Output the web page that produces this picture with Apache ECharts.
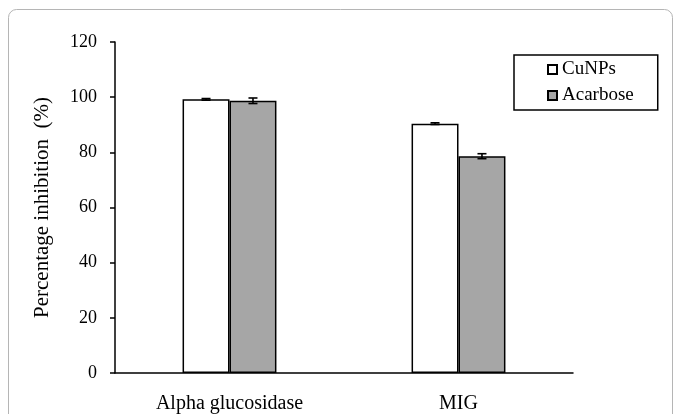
<!DOCTYPE html>
<html>
<head>
<meta charset="utf-8">
<script src="https://cdn.jsdelivr.net/npm/echarts@6/dist/echarts.min.js"></script>
<style>
  html, body { margin: 0; padding: 0; background: #fff; }
  #chart { width: 683px; height: 414px; }
</style>
</head>
<body>
<div id="chart"></div>
<script>
// Enzyme inhibition: CuNPs vs Acarbose
const categories = ['Alpha glucosidase', 'MIG'];
const seriesNames = ['CuNPs', 'Acarbose'];
const cunpsValues = [99.2, 90.4];
const cunpsErrors = [0.3, 0.3];
const acarboseValues = [98.7, 78.6];
const acarboseErrors = [1.0, 0.9];
const yTicks = [0, 20, 40, 60, 80, 100, 120];

const serif = '"Liberation Serif", "Times New Roman", serif';
const GROUP_FRACTION = 0.41; // share of each category band taken by the two bars

// Error bar drawn over one of the two bars in a group (side: -1 left, +1 right)
function errorBarRenderer(side) {
  return function (params, api) {
    const idx = api.value(0);
    const val = api.value(1);
    const err = api.value(2);
    const band = api.size([1, 0])[0];
    const barW = band * GROUP_FRACTION / 2;
    const base = api.coord([idx, val]);
    const x = base[0] + side * barW / 2;
    const hi = api.coord([idx, val + err])[1];
    const lo = api.coord([idx, val - err])[1];
    const cap = 4.5;
    const style = { stroke: '#000', lineWidth: 1.6 };
    return {
      type: 'group',
      children: [
        { type: 'line', shape: { x1: x, y1: hi, x2: x, y2: lo }, style },
        { type: 'line', shape: { x1: x - cap, y1: hi, x2: x + cap, y2: hi }, style },
        { type: 'line', shape: { x1: x - cap, y1: lo, x2: x + cap, y2: lo }, style }
      ]
    };
  };
}

const chart = echarts.init(document.getElementById('chart'));
chart.setOption({
  backgroundColor: '#fff',
  animation: false,
  graphic: [{
    type: 'rect',
    shape: { x: 8.5, y: 9.5, width: 664, height: 440, r: 8 },
    style: { fill: 'none', stroke: '#b5b5b5', lineWidth: 1 },
    z: -1
  }],
  grid: { left: 115, right: 110, top: 42, bottom: 34 },
  legend: {
    orient: 'vertical',
    left: 514,
    top: 55,
    data: seriesNames,
    icon: 'rect',
    itemWidth: 9,
    itemHeight: 9,
    itemGap: 7,
    padding: [5, 24, 5, 33],
    borderColor: '#000',
    borderWidth: 1.5,
    backgroundColor: '#fff',
    textStyle: { fontFamily: serif, fontSize: 19, color: '#000', lineHeight: 18 }
  },
  xAxis: {
    type: 'category',
    data: categories,
    axisLine: { lineStyle: { color: '#000', width: 1.5 } },
    axisTick: { show: false },
    axisLabel: { fontFamily: serif, fontSize: 20, color: '#000', margin: 21 }
  },
  yAxis: {
    type: 'value',
    min: yTicks[0],
    max: yTicks[yTicks.length - 1],
    interval: yTicks[1] - yTicks[0],
    name: 'Percentage inhibition  (%)',
    nameLocation: 'middle',
    nameGap: 62,
    nameTextStyle: { fontFamily: serif, fontSize: 21, color: '#000' },
    axisLine: { show: true, lineStyle: { color: '#000', width: 1.5 } },
    axisTick: { show: true, inside: false, length: 5, lineStyle: { color: '#000', width: 1.5 } },
    axisLabel: { fontFamily: serif, fontSize: 18, color: '#000', margin: 18 },
    splitLine: { show: false }
  },
  series: [
    {
      name: seriesNames[0],
      type: 'bar',
      data: cunpsValues,
      barGap: '0%',
      barCategoryGap: (100 - GROUP_FRACTION * 100) + '%',
      itemStyle: { color: '#ffffff', borderColor: '#000', borderWidth: 1.5 }
    },
    {
      name: seriesNames[1],
      type: 'bar',
      data: acarboseValues,
      barGap: '0%',
      barCategoryGap: (100 - GROUP_FRACTION * 100) + '%',
      itemStyle: { color: '#a6a6a6', borderColor: '#000', borderWidth: 1.5 }
    },
    {
      type: 'custom',
      renderItem: errorBarRenderer(-1),
      data: cunpsValues.map((v, i) => [i, v, cunpsErrors[i]]),
      encode: { x: 0, y: 1 },
      z: 10
    },
    {
      type: 'custom',
      renderItem: errorBarRenderer(1),
      data: acarboseValues.map((v, i) => [i, v, acarboseErrors[i]]),
      encode: { x: 0, y: 1 },
      z: 10
    }
  ]
});
</script>
</body>
</html>
